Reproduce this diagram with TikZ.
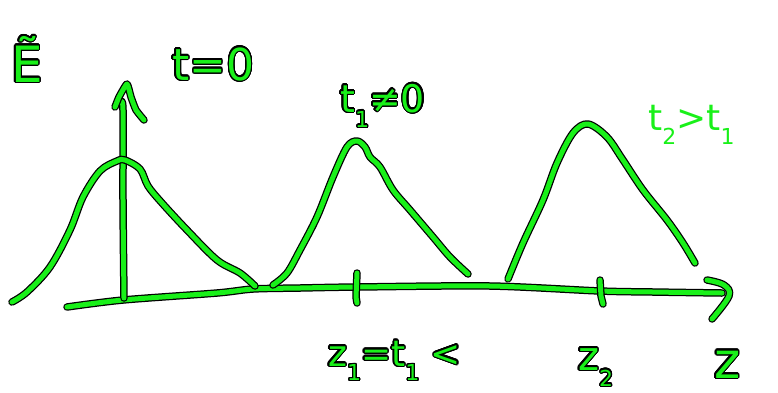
\documentclass[tikz,border=0pt]{standalone}
\usepackage{fontspec}
\setmainfont{DejaVu Sans}
\usepackage{contour}
\contourlength{1.3pt}
\contournumber{24}
\definecolor{inkgreen}{RGB}{25,240,25}
\newcommand{\lowsub}[1]{\raisebox{-0.4em}{\fontsize{22}{22}\selectfont #1}}
\tikzset{
  inkline/.style={draw=inkgreen, line width=5pt, line cap=round, line join=round,
    preaction={draw=black, line width=7.5pt, line cap=round, line join=round}},
  handtext/.style={inner sep=0pt, anchor=base west, text=inkgreen},
}
\begin{document}
\begin{tikzpicture}[x=1pt,y=-1pt]
\useasboundingbox (0,0) rectangle (778,392);
% axis
\draw[inkline] plot[smooth, tension=0.5] coordinates {(67,307) (123,300) (217,293) (253,289) (300,288) (357,287) (490,286) (600,291) (653,292) (722,293)};
% axis arrowhead
\draw[inkline] plot[smooth, tension=0.6] coordinates {(707,280) (724,285) (729,296) (712,319)};
% vertical arrow
\draw[inkline] plot[smooth, tension=0.5] coordinates {(124,298) (123,200) (123,110) (121,103)};
\draw[inkline] plot[smooth, tension=0.3] coordinates {(115,107) (119,97) (127,84) (131,97) (136,110) (144,120)};
% ticks
\draw[inkline] (357,273) -- (356,297) -- (357,303);
\draw[inkline] (600,280) -- (601,296) -- (603,304);
% peak 1
\draw[inkline] plot[smooth, tension=0.55] coordinates {(12,302) (27,292) (50,267) (70,230) (83,197) (100,171) (117,161) (125,160) (140,169) (148,186) (162,203) (187,230) (217,260) (240,273) (255,286)};
% peak 2
\draw[inkline] plot[smooth, tension=0.55] coordinates {(273,285) (287,273) (300,250) (317,217) (333,177) (347,147) (357,141) (365,147) (370,157) (380,167) (393,190) (410,210) (433,237) (450,257) (468,274)};
% peak 3
\draw[inkline] plot[smooth, tension=0.55] coordinates {(508,279) (523,243) (543,200) (557,163) (573,133) (588,124) (607,137) (623,160) (643,190) (667,220) (683,243) (695,263)};
% texts
\node[handtext, font=\fontsize{50}{50}\selectfont] (etilde) at (11,82) {\contour{black}{Ẽ}};
\node[handtext, font=\fontsize{44}{44}\selectfont] (tzero) at (172,80) {\contour{black}{t=0}};
\node[handtext, font=\fontsize{38}{38}\selectfont] (tone) at (340,112) {\contour{black}{t\lowsub{1}≠0}};
\node[handtext, font=\fontsize{36}{36}\selectfont] (ttwo) at (648,130) {t\lowsub{2}>t\lowsub{1}};
\node[handtext, font=\fontsize{36}{36}\selectfont] (zone) at (328,366) {\contour{black}{z\lowsub{1}=t\lowsub{1} <}};
\node[handtext, font=\fontsize{40}{40}\selectfont] (ztwo) at (578,370) {\contour{black}{z\lowsub{2}}};
\node[handtext, font=\fontsize{50}{50}\selectfont] (zaxis) at (714,378) {\contour{black}{z}};
\end{tikzpicture}
\end{document}
